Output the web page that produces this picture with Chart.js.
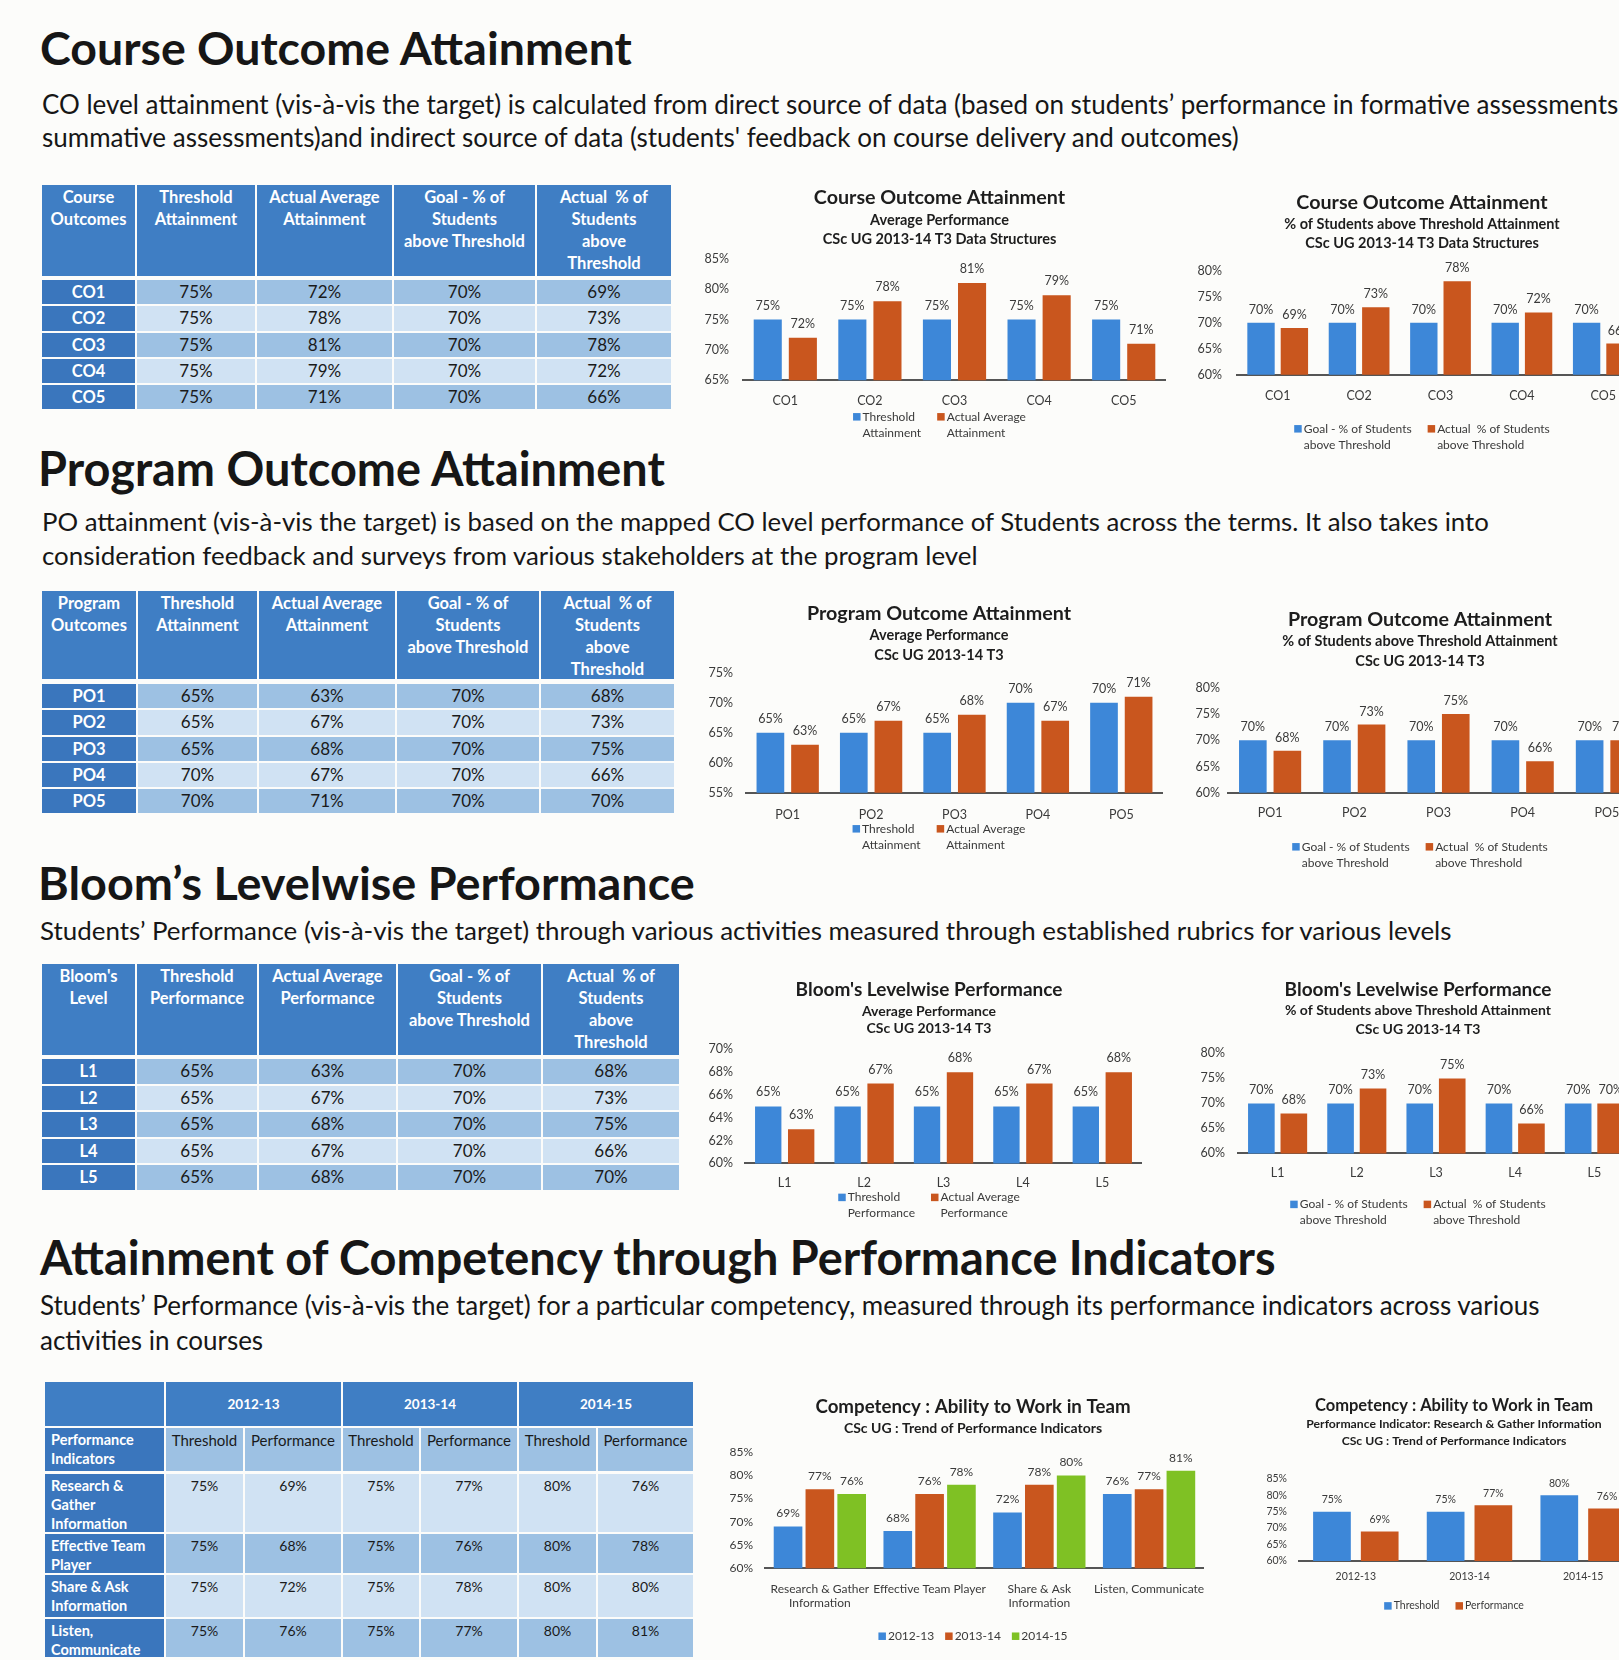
<!DOCTYPE html>
<html><head><meta charset="utf-8">
<script src="https://cdn.jsdelivr.net/npm/chart.js@4.4.1/dist/chart.umd.min.js"></script>
<style>
html,body{margin:0;padding:0;}
body{width:1619px;height:1660px;overflow:hidden;position:relative;background:#fcfcfa;font-family:Lato,'Open Sans',sans-serif;color:#161616;}
.t{position:absolute;white-space:nowrap;}
.cell{position:absolute;box-sizing:border-box;text-align:center;overflow:hidden;white-space:pre;}
.cw{position:absolute;}
</style></head><body>
<script>
// ---------------- DATA ----------------
const coCats = ['CO1','CO2','CO3','CO4','CO5'];
const coThreshold = [75,75,75,75,75];
const coActualAvg = [72,78,81,79,71];
const coGoal = [70,70,70,70,70];
const coActualPct = [69,73,78,72,66];

const poCats = ['PO1','PO2','PO3','PO4','PO5'];
const poThreshold = [65,65,65,70,70];
const poActualAvg = [63,67,68,67,71];
const poGoal = [70,70,70,70,70];
const poActualPct = [68,73,75,66,70];

const bloomCats = ['L1','L2','L3','L4','L5'];
const bloomThreshold = [65,65,65,65,65];
const bloomActualAvg = [63,67,68,67,68];
const bloomGoal = [70,70,70,70,70];
const bloomActualPct = [68,73,75,66,70];

const years = ['2012-13','2013-14','2014-15'];
const piTableLabels = [['Research &','Gather','Information'],['Effective Team','Player'],['Share & Ask','Information'],['Listen,','Communicate']];
const piChartLabels = [['Research & Gather','Information'],'Effective Team Player',['Share & Ask','Information'],'Listen, Communicate'];
const thr1213 = [75,75,75,75];
const perf1213 = [69,68,72,76];
const thr1314 = [75,75,75,75];
const perf1314 = [77,76,78,77];
const thr1415 = [80,80,80,80];
const perf1415 = [76,78,80,81];

const coHeader = [['Course','Outcomes'],['Threshold','Attainment'],['Actual Average','Attainment'],['Goal - % of','Students','above Threshold'],['Actual  % of','Students','above','Threshold']];
const poHeader = [['Program','Outcomes'],['Threshold','Attainment'],['Actual Average','Attainment'],['Goal - % of','Students','above Threshold'],['Actual  % of','Students','above','Threshold']];
const bloomHeader = [["Bloom's",'Level'],['Threshold','Performance'],['Actual Average','Performance'],['Goal - % of','Students','above Threshold'],['Actual  % of','Students','above','Threshold']];

const legAttain = [['Threshold','Attainment'],['Actual Average','Attainment']];
const legPerf = [['Threshold','Performance'],['Actual Average','Performance']];
const legPct = [['Goal - % of Students','above Threshold'],['Actual  % of Students','above Threshold']];
const legYears = [['2012-13'],['2013-14'],['2014-15']];
const legTP = [['Threshold'],['Performance']];

const BLUE='#3d87d8', ORANGE='#c9561e', GREEN='#7fc124';
const HDR='#3f7ec4', FIRST='#3a76bd', MED='#9dc1e3', LIGHT='#d0e2f3';

// ---------------- TEXT ----------------
function addText(txt, x, cy, size, weight, targetW){
  const d=document.createElement('div'); d.className='t'; d.textContent=txt;
  d.style.fontSize=size+'px'; d.style.fontWeight=weight; d.style.left=x+'px';
  document.body.appendChild(d);
  if(targetW){ const w=d.getBoundingClientRect().width; size=size*targetW/w; d.style.fontSize=size+'px'; }
  d.style.lineHeight=(size*1.2)+'px';
  d.style.top=(cy-0.65*size)+'px';
  return size;
}
addText('Course Outcome Attainment',40,50,44,'bold',592);
const p1=addText('summative assessments)and indirect source of data (students\' feedback on course delivery and outcomes)',42,139,24,'normal',1197);
addText('CO level attainment (vis-à-vis the target) is calculated from direct source of data (based on students’ performance in formative assessments,',42,106,p1,'normal',null);
addText('Program Outcome Attainment',38,470,44,'bold',627);
addText('PO attainment (vis-à-vis the target) is based on the mapped CO level performance of Students across the terms. It also takes into',42,523,24,'normal',1448);
addText('consideration feedback and surveys from various stakeholders at the program level',42,557,24,'normal',936);
addText('Bloom’s Levelwise Performance',38,884,44,'bold',657);
addText('Students’ Performance (vis-à-vis the target) through various activities measured through established rubrics for various levels',40,932,24,'normal',1412);
addText('Attainment of Competency through Performance Indicators',40,1259,44,'bold',1236);
const p4=addText('Students’ Performance (vis-à-vis the target) for a particular competency, measured through its performance indicators across various',40,1307,24,'normal',1500);
addText('activities in courses',40,1342,p4,'normal',null);

// ---------------- TABLES ----------------
function tcell(x,y,w,h,bg){const d=document.createElement('div');d.className='cell';Object.assign(d.style,{left:x+'px',top:y+'px',width:w+'px',height:h+'px',background:bg});document.body.appendChild(d);return d;}
function setText(d,arr,size,weight,color,lh,padTop,align,padLeft){
  d.textContent=arr.join('\n');
  Object.assign(d.style,{fontSize:size+'px',fontWeight:weight,color:color,lineHeight:lh+'px',paddingTop:padTop+'px'});
  if(align){d.style.textAlign=align;d.style.paddingLeft=padLeft+'px';}
}
function outcomeTable(o){
  o.cols.forEach(([x,w],j)=>{
    const d=tcell(x,o.hy,w,o.hh,HDR);
    setText(d,o.header[j],16.5,'bold','#fff',22,1);
  });
  o.rows.forEach((r,i)=>{
    const y=o.ry+i*o.rp;
    o.cols.forEach(([x,w],j)=>{
      const bg=j===0?FIRST:(i%2===0?MED:LIGHT);
      const d=tcell(x,y,w,o.rh,bg);
      setText(d,[j===0?r[j]:r[j]+'%'],j===0?16.5:17,j===0?'bold':'normal',j===0?'#fff':'#1a1a1a',o.rh,0);
    });
  });
}
outcomeTable({cols:[[42,93],[137,118],[257,135],[394,141],[537,134]],hy:185,hh:91,ry:280,rp:26.3,rh:24.3,header:coHeader,
  rows:coCats.map((c,i)=>[c,coThreshold[i],coActualAvg[i],coGoal[i],coActualPct[i]])});
outcomeTable({cols:[[42,94],[138,119],[259,136],[397,142],[541,133]],hy:591,hh:88,ry:684,rp:26.3,rh:24.3,header:poHeader,
  rows:poCats.map((c,i)=>[c,poThreshold[i],poActualAvg[i],poGoal[i],poActualPct[i]])});
outcomeTable({cols:[[42,93],[137,120],[259,137],[398,143],[543,136]],hy:964,hh:91,ry:1059,rp:26.6,rh:24.6,header:bloomHeader,
  rows:bloomCats.map((c,i)=>[c,bloomThreshold[i],bloomActualAvg[i],bloomGoal[i],bloomActualPct[i]])});

// competency table
(function(){
  const cols=[[45,119],[166,77],[245,96],[343,76],[421,96],[519,77],[598,95]];
  const rowsY=[[1474,58],[1534,39],[1575,42],[1619,38]];
  tcell(45,1382,119,44,HDR);
  years.forEach((yr,k)=>{
    const x=cols[1+2*k][0], w=cols[2+2*k][0]+cols[2+2*k][1]-x;
    const d=tcell(x,1382,w,44,HDR); setText(d,[yr],13.5,'bold','#fff',44,0);
  });
  const h2=tcell(45,1428,119,43,FIRST); setText(h2,['Performance','Indicators'],14.5,'bold','#fff',19,2,'left',6);
  for(let j=1;j<7;j++){const d=tcell(cols[j][0],1428,cols[j][1],43,MED); setText(d,[j%2?'Threshold':'Performance'],15,'normal','#1a1a1a',19,3);}
  piTableLabels.forEach((lab,i)=>{
    const [y,h]=rowsY[i];
    const bg=i%2===0?LIGHT:MED;
    const f=tcell(45,y,119,h,FIRST); setText(f,lab,14.5,'bold','#fff',19,2,'left',6);
    const vals=[thr1213[i],perf1213[i],thr1314[i],perf1314[i],thr1415[i],perf1415[i]];
    vals.forEach((v,k)=>{const d=tcell(cols[k+1][0],y,cols[k+1][1],h,bg); setText(d,[v+'%'],14,'normal','#1a1a1a',19,2);});
  });
})();

// ---------------- CHARTS ----------------
Chart.defaults.font.family="Lato, 'Open Sans', sans-serif";
const valueLabels={id:'valueLabels',afterDatasetsDraw(chart,args,o){
  const ctx=chart.ctx;ctx.save();ctx.font=o.size+'px Lato';ctx.fillStyle=o.color;ctx.textAlign='center';ctx.textBaseline='middle';
  chart.data.datasets.forEach((d,i)=>{chart.getDatasetMeta(i).data.forEach((el,j)=>{ctx.fillText(d.data[j]+'%',el.x,el.y-o.offset);});});
  ctx.restore();}};
const multiLegend={id:'multiLegend',afterDraw(chart,args,o){
  const ctx=chart.ctx;ctx.save();ctx.font=o.size+'px Lato';ctx.textBaseline='middle';ctx.textAlign='left';
  const items=chart.data.datasets.map((d,i)=>{const lines=o.labels[i];return {lines,w:Math.max(...lines.map(l=>ctx.measureText(l).width)),color:d.backgroundColor};});
  const total=items.reduce((s,it)=>s+o.box+o.boxGap+it.w,0)+o.itemGap*(items.length-1);
  let x=o.cx-total/2;
  items.forEach(it=>{
    ctx.fillStyle=it.color;ctx.fillRect(x,o.cy-o.box/2,o.box,o.box);
    ctx.fillStyle=o.color;it.lines.forEach((l,k)=>ctx.fillText(l,x+o.box+o.boxGap,o.cy+k*o.lh));
    x+=o.box+o.boxGap+it.w+o.itemGap;
  });
  ctx.restore();}};

function makeChart(c){
  const tLH=c.titleSize*1.2;
  const top=c.titleY-tLH/2-4;
  const subTop=c.subY-c.subLH/2;
  const ps=Math.max(0,subTop-(c.titleY+tLH/2));
  const pb=Math.max(0,c.plotTop-(c.titleY+tLH/2+ps+c.sub.length*c.subLH));
  const axisLeft=2*c.TC-c.PR;
  const yW=c.PL-axisLeft;
  const padL=60;
  const left=axisLeft-padL;
  const width=Math.round(c.PR-left);
  const catLH=c.catSize*1.2;
  const catPad=c.catY-c.plotBottom-catLH/2;
  const xH=catPad+c.catLines*catLH+2;
  const height=Math.round(c.legendY+c.legLines*c.legLH+12-top);
  const padB=height-(c.plotBottom-top)-xH;
  const box=document.createElement('div');box.className='cw';
  Object.assign(box.style,{left:left+'px',top:top+'px',width:width+'px',height:height+'px'});
  const cv=document.createElement('canvas');cv.width=width;cv.height=height;
  box.appendChild(cv);document.body.appendChild(box);
  new Chart(cv,{type:'bar',
    data:{labels:c.labels,datasets:c.series.map((s,i)=>({label:c.legend[i].join(' '),data:s,backgroundColor:c.colors[i],borderWidth:0,categoryPercentage:c.catPct,barPercentage:c.barPct}))},
    options:{responsive:false,animation:false,events:[],
      layout:{padding:{left:padL,right:0,top:0,bottom:padB}},
      plugins:{legend:{display:false},tooltip:{enabled:false},
        title:{display:true,text:c.title,color:'#1d1d1d',font:{size:c.titleSize,weight:'bold'},padding:{top:4,bottom:0}},
        subtitle:{display:true,text:c.sub,color:'#1d1d1d',font:{size:c.subSize,weight:'bold',lineHeight:c.subLH+'px'},padding:{top:ps,bottom:pb}},
        valueLabels:{size:c.valSize,offset:c.valOff,color:'#3a3a3a'},
        multiLegend:{labels:c.legend,cx:c.TC-left,cy:c.legendY-top,lh:c.legLH,size:c.legSize,box:7.5,boxGap:2,itemGap:c.itemGap,color:'#3a3a3a'}},
      scales:{
        x:{grid:{display:false,drawTicks:false},border:{display:true,color:'#555',width:2},
           ticks:{padding:catPad,font:{size:c.catSize},color:'#3a3a3a',autoSkip:false,maxRotation:0},afterFit(s){s.height=xH;}},
        y:{min:c.min,max:c.max,grid:{display:false,drawTicks:false},border:{display:false},
           ticks:{stepSize:c.step,padding:c.PL-c.yLabelRight,font:{size:c.tickSize},color:'#3a3a3a',callback:v=>v+'%'},
           afterFit(s){s.width=yW;s._computeLabelArea=function(){return undefined;};}}
      }},
    plugins:[valueLabels,multiLegend]});
}
const base={titleSize:19.7,subSize:14.5,tickSize:12.5,catSize:12.5,valSize:12.5,valOff:14,legSize:12,legLH:16,legLines:2,catLines:1,itemGap:16,catPct:0.83,barPct:0.8,step:5,colors:[BLUE,ORANGE]};
function C(o){return Object.assign({},base,o);}

makeChart(C({title:'Course Outcome Attainment',sub:['Average Performance','CSc UG 2013-14 T3 Data Structures'],
  labels:coCats,series:[coThreshold,coActualAvg],legend:legAttain,min:65,max:85,
  titleY:198,subY:221,subLH:19,plotTop:259,plotBottom:380.5,PL:743,PR:1166,TC:939.5,yLabelRight:729,catY:401,legendY:417}));
makeChart(C({title:'Course Outcome Attainment',sub:['% of Students above Threshold Attainment','CSc UG 2013-14 T3 Data Structures'],
  labels:coCats,series:[coGoal,coActualPct],legend:legPct,min:60,max:80,catPct:0.82,barPct:0.82,valOff:13,
  titleY:203,subY:225,subLH:18.5,plotTop:271,plotBottom:375,PL:1237,PR:1644,TC:1422,yLabelRight:1222,catY:396,legendY:429}));
makeChart(C({title:'Program Outcome Attainment',sub:['Average Performance','CSc UG 2013-14 T3'],
  labels:poCats,series:[poThreshold,poActualAvg],legend:legAttain,min:55,max:75,
  titleY:614,subY:636,subLH:20,plotTop:673,plotBottom:793,PL:746,PR:1163,TC:939,yLabelRight:733,catY:815,legendY:829}));
makeChart(C({title:'Program Outcome Attainment',sub:['% of Students above Threshold Attainment','CSc UG 2013-14 T3'],
  labels:poCats,series:[poGoal,poActualPct],legend:legPct,min:60,max:80,catPct:0.82,valOff:13,
  titleY:620,subY:642,subLH:19.5,plotTop:688,plotBottom:793,PL:1228,PR:1649,TC:1420,yLabelRight:1220,catY:813,legendY:847}));
makeChart(C({title:'Bloom\'s Levelwise Performance',sub:['Average Performance','CSc UG 2013-14 T3'],titleSize:19,subSize:14,
  labels:bloomCats,series:[bloomThreshold,bloomActualAvg],legend:legPerf,min:60,max:70,step:2,
  titleY:989,subY:1011,subLH:17.5,plotTop:1049,plotBottom:1163,PL:745,PR:1142,TC:929,yLabelRight:733,catY:1183,legendY:1197}));
makeChart(C({title:'Bloom\'s Levelwise Performance',sub:['% of Students above Threshold Attainment','CSc UG 2013-14 T3'],titleSize:19,subSize:14,
  labels:bloomCats,series:[bloomGoal,bloomActualPct],legend:legPct,min:60,max:80,catPct:0.82,barPct:0.82,valOff:13,
  titleY:989,subY:1010,subLH:19,plotTop:1053,plotBottom:1153,PL:1238,PR:1634,TC:1418,yLabelRight:1225,catY:1173,legendY:1204}));
makeChart(C({title:'Competency : Ability to Work in Team',sub:['CSc UG : Trend of Performance Indicators'],titleSize:18.7,subSize:14,
  labels:piChartLabels,series:[perf1213,perf1314,perf1415],colors:[BLUE,ORANGE,GREEN],legend:legYears,min:60,max:85,
  catPct:0.87,barPct:0.9,catSize:12,catLines:2,tickSize:12,valSize:12,valOff:13,legSize:12,legLines:1,itemGap:11,
  titleY:1407,subY:1428,subLH:18,plotTop:1452,plotBottom:1568,PL:765,PR:1218,TC:973,yLabelRight:753,catY:1589,legendY:1636}));
makeChart(C({title:'Competency : Ability to Work in Team',sub:['Performance Indicator: Research & Gather Information','CSc UG : Trend of Performance Indicators'],titleSize:16.5,subSize:12.2,
  labels:years,series:[[thr1213[0],thr1314[0],thr1415[0]],[perf1213[0],perf1314[0],perf1415[0]]],legend:legTP,min:60,max:85,
  catPct:0.84,barPct:0.79,catSize:10.5,tickSize:10.5,valSize:10.5,valOff:12,legSize:10.5,legLines:1,itemGap:16,
  titleY:1406,subY:1424,subLH:17,plotTop:1479,plotBottom:1561,PL:1299,PR:1640,TC:1454,yLabelRight:1287,catY:1577,legendY:1606}));
</script>
</body></html>
